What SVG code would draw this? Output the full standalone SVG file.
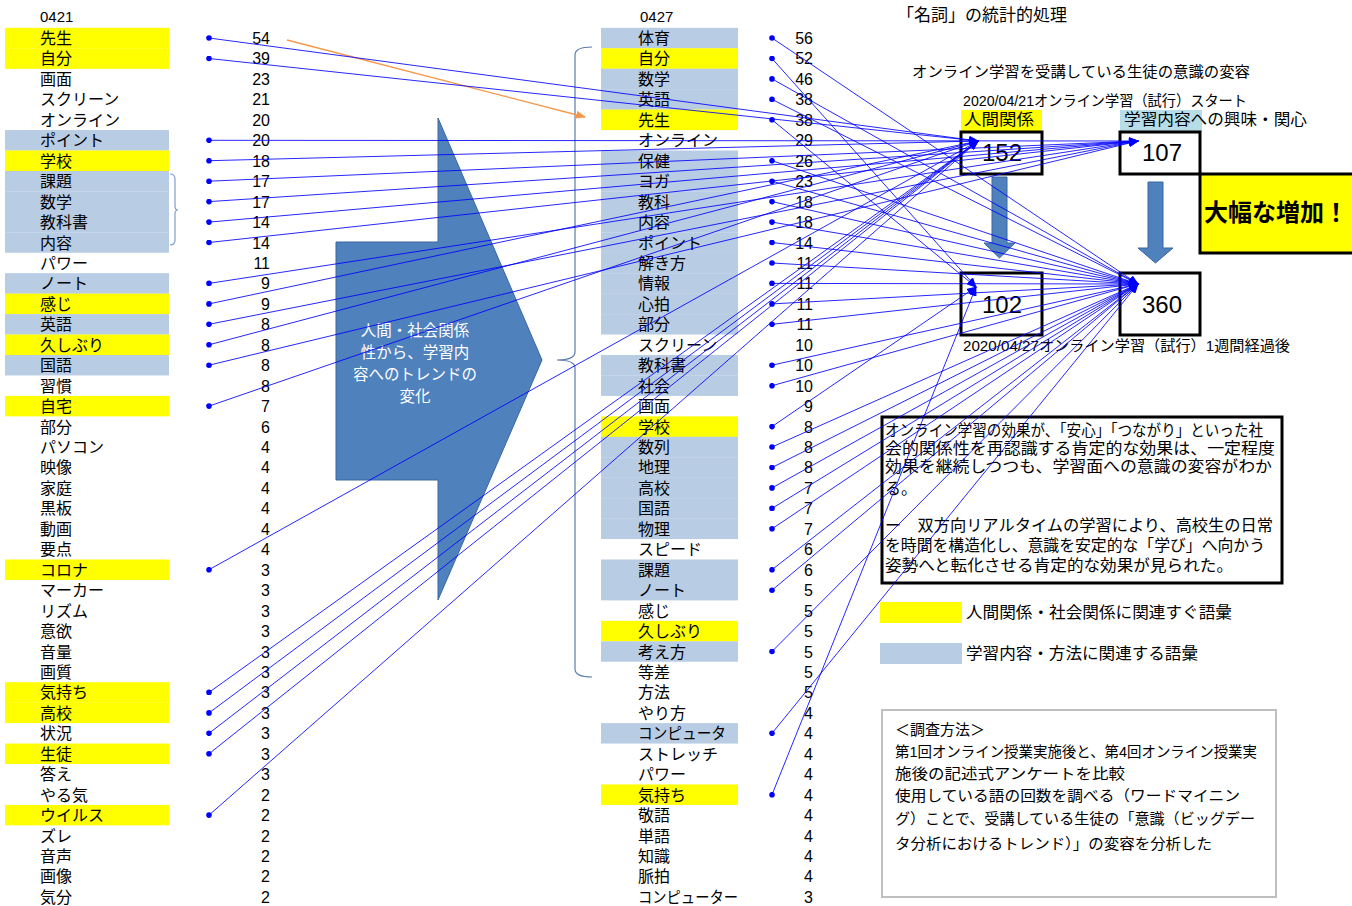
<svg xmlns="http://www.w3.org/2000/svg" width="1352" height="906" viewBox="0 0 1352 906">
<style>
.t{font-family:"Liberation Sans","Noto Sans CJK JP",sans-serif;font-size:16px;fill:#000}
.n{font-family:"Liberation Sans","Noto Sans CJK JP",sans-serif;font-size:16px;fill:#000;text-anchor:end}
.s{font-family:"Liberation Sans","Noto Sans CJK JP",sans-serif;font-size:15px;fill:#000}
.y{fill:#ffff00}
.b{fill:#b8cce4}
.box{fill:#fff;stroke:#000;stroke-width:3}
.num{font-family:"Liberation Sans","Noto Sans CJK JP",sans-serif;font-size:24px;fill:#000;text-anchor:middle}
.c{stroke:#0000ff;stroke-width:1;stroke-opacity:0.85;fill:none;marker-start:url(#dot);marker-end:url(#arr)}
.sb{fill:#4f81bd;stroke:#3a66a0;stroke-width:1}
</style>
<defs>
<marker id="dot" markerWidth="6" markerHeight="6" refX="3" refY="3" markerUnits="userSpaceOnUse"><circle cx="3" cy="3" r="2.8" fill="#0000ff"/></marker>
<marker id="arr" markerWidth="10" markerHeight="8" refX="9" refY="4" orient="auto" markerUnits="userSpaceOnUse"><path d="M0,0 L10,4 L0,8 z" fill="#0000ff"/></marker>
<marker id="oarr" markerWidth="10" markerHeight="8" refX="9" refY="4" orient="auto" markerUnits="userSpaceOnUse"><path d="M0,0 L10,4 L0,8 z" fill="#f79646"/></marker>
</defs>
<rect width="1352" height="906" fill="#fff"/>

<text class="s" x="40" y="22">0421</text>
<text class="s" x="640" y="22">0427</text>
<text class="t" x="897" y="21" style="font-size:17px">「名詞」の統計的処理</text>

<g id="trend-arrow">
<polygon class="sb" points="438,118 542,360 438,600 438,480 336,480 336,242 438,242"/>
<g style="font-family:'Liberation Sans','Noto Sans CJK JP',sans-serif;font-size:15.5px;fill:#fff;text-anchor:middle">
<text x="415" y="336">人間・社会関係</text>
<text x="415" y="358">性から、学習内</text>
<text x="415" y="380">容へのトレンドの</text>
<text x="415" y="402">変化</text>
</g>
</g>

<path d="M170,174 Q175,174 175,179 L175,206 Q175,210 178,210 Q175,210 175,214 L175,240 Q175,245 170,245" fill="none" stroke="#7f9fcf" stroke-width="1.2"/>
<path d="M592,47 Q575,47 575,55 L575,352 Q575,360 557,360 Q575,360 575,368 L575,669 Q575,677 592,677" fill="none" stroke="#5a7bb0" stroke-width="1.2"/>

<g id="left-list">
<g id="L0" transform="translate(0,38)"><rect class="y" x="5" y="-10.2" width="164" height="20.6"/><text class="t" x="40" y="6">先生</text><text class="n" x="270" y="6">54</text></g>
<g id="L1" transform="translate(0,58.45)"><rect class="y" x="5" y="-10.2" width="164" height="20.6"/><text class="t" x="40" y="6">自分</text><text class="n" x="270" y="6">39</text></g>
<g id="L2" transform="translate(0,78.9)"><text class="t" x="40" y="6">画面</text><text class="n" x="270" y="6">23</text></g>
<g id="L3" transform="translate(0,99.35)"><text class="t" x="40" y="6">スクリーン</text><text class="n" x="270" y="6">21</text></g>
<g id="L4" transform="translate(0,119.8)"><text class="t" x="40" y="6">オンライン</text><text class="n" x="270" y="6">20</text></g>
<g id="L5" transform="translate(0,140.25)"><rect class="b" x="5" y="-10.2" width="164" height="20.6"/><text class="t" x="40" y="6">ポイント</text><text class="n" x="270" y="6">20</text></g>
<g id="L6" transform="translate(0,160.7)"><rect class="y" x="5" y="-10.2" width="164" height="20.6"/><text class="t" x="40" y="6">学校</text><text class="n" x="270" y="6">18</text></g>
<g id="L7" transform="translate(0,181.15)"><rect class="b" x="5" y="-10.2" width="164" height="20.6"/><text class="t" x="40" y="6">課題</text><text class="n" x="270" y="6">17</text></g>
<g id="L8" transform="translate(0,201.6)"><rect class="b" x="5" y="-10.2" width="164" height="20.6"/><text class="t" x="40" y="6">数学</text><text class="n" x="270" y="6">17</text></g>
<g id="L9" transform="translate(0,222.05)"><rect class="b" x="5" y="-10.2" width="164" height="20.6"/><text class="t" x="40" y="6">教科書</text><text class="n" x="270" y="6">14</text></g>
<g id="L10" transform="translate(0,242.5)"><rect class="b" x="5" y="-10.2" width="164" height="20.45"/><text class="t" x="40" y="6">内容</text><text class="n" x="270" y="6">14</text></g>
<g id="L11" transform="translate(0,262.95)"><text class="t" x="40" y="6">パワー</text><text class="n" x="270" y="6">11</text></g>
<g id="L12" transform="translate(0,283.4)"><rect class="b" x="5" y="-10.2" width="164" height="20.6"/><text class="t" x="40" y="6">ノート</text><text class="n" x="270" y="6">9</text></g>
<g id="L13" transform="translate(0,303.85)"><rect class="y" x="5" y="-10.2" width="164" height="20.6"/><text class="t" x="40" y="6">感じ</text><text class="n" x="270" y="6">9</text></g>
<g id="L14" transform="translate(0,324.3)"><rect class="b" x="5" y="-10.2" width="164" height="20.6"/><text class="t" x="40" y="6">英語</text><text class="n" x="270" y="6">8</text></g>
<g id="L15" transform="translate(0,344.75)"><rect class="y" x="5" y="-10.2" width="164" height="20.6"/><text class="t" x="40" y="6">久しぶり</text><text class="n" x="270" y="6">8</text></g>
<g id="L16" transform="translate(0,365.2)"><rect class="b" x="5" y="-10.2" width="164" height="20.45"/><text class="t" x="40" y="6">国語</text><text class="n" x="270" y="6">8</text></g>
<g id="L17" transform="translate(0,385.65)"><text class="t" x="40" y="6">習慣</text><text class="n" x="270" y="6">8</text></g>
<g id="L18" transform="translate(0,406.1)"><rect class="y" x="5" y="-10.2" width="164" height="20.45"/><text class="t" x="40" y="6">自宅</text><text class="n" x="270" y="6">7</text></g>
<g id="L19" transform="translate(0,426.55)"><text class="t" x="40" y="6">部分</text><text class="n" x="270" y="6">6</text></g>
<g id="L20" transform="translate(0,447)"><text class="t" x="40" y="6">パソコン</text><text class="n" x="270" y="6">4</text></g>
<g id="L21" transform="translate(0,467.45)"><text class="t" x="40" y="6">映像</text><text class="n" x="270" y="6">4</text></g>
<g id="L22" transform="translate(0,487.9)"><text class="t" x="40" y="6">家庭</text><text class="n" x="270" y="6">4</text></g>
<g id="L23" transform="translate(0,508.35)"><text class="t" x="40" y="6">黒板</text><text class="n" x="270" y="6">4</text></g>
<g id="L24" transform="translate(0,528.8)"><text class="t" x="40" y="6">動画</text><text class="n" x="270" y="6">4</text></g>
<g id="L25" transform="translate(0,549.25)"><text class="t" x="40" y="6">要点</text><text class="n" x="270" y="6">4</text></g>
<g id="L26" transform="translate(0,569.7)"><rect class="y" x="5" y="-10.2" width="164" height="20.45"/><text class="t" x="40" y="6">コロナ</text><text class="n" x="270" y="6">3</text></g>
<g id="L27" transform="translate(0,590.15)"><text class="t" x="40" y="6">マーカー</text><text class="n" x="270" y="6">3</text></g>
<g id="L28" transform="translate(0,610.6)"><text class="t" x="40" y="6">リズム</text><text class="n" x="270" y="6">3</text></g>
<g id="L29" transform="translate(0,631.05)"><text class="t" x="40" y="6">意欲</text><text class="n" x="270" y="6">3</text></g>
<g id="L30" transform="translate(0,651.5)"><text class="t" x="40" y="6">音量</text><text class="n" x="270" y="6">3</text></g>
<g id="L31" transform="translate(0,671.95)"><text class="t" x="40" y="6">画質</text><text class="n" x="270" y="6">3</text></g>
<g id="L32" transform="translate(0,692.4)"><rect class="y" x="5" y="-10.2" width="164" height="20.6"/><text class="t" x="40" y="6">気持ち</text><text class="n" x="270" y="6">3</text></g>
<g id="L33" transform="translate(0,712.85)"><rect class="y" x="5" y="-10.2" width="164" height="20.45"/><text class="t" x="40" y="6">高校</text><text class="n" x="270" y="6">3</text></g>
<g id="L34" transform="translate(0,733.3)"><text class="t" x="40" y="6">状況</text><text class="n" x="270" y="6">3</text></g>
<g id="L35" transform="translate(0,753.75)"><rect class="y" x="5" y="-10.2" width="164" height="20.45"/><text class="t" x="40" y="6">生徒</text><text class="n" x="270" y="6">3</text></g>
<g id="L36" transform="translate(0,774.2)"><text class="t" x="40" y="6">答え</text><text class="n" x="270" y="6">3</text></g>
<g id="L37" transform="translate(0,794.65)"><text class="t" x="40" y="6">やる気</text><text class="n" x="270" y="6">2</text></g>
<g id="L38" transform="translate(0,815.1)"><rect class="y" x="5" y="-10.2" width="164" height="20.45"/><text class="t" x="40" y="6">ウイルス</text><text class="n" x="270" y="6">2</text></g>
<g id="L39" transform="translate(0,835.55)"><text class="t" x="40" y="6">ズレ</text><text class="n" x="270" y="6">2</text></g>
<g id="L40" transform="translate(0,856)"><text class="t" x="40" y="6">音声</text><text class="n" x="270" y="6">2</text></g>
<g id="L41" transform="translate(0,876.45)"><text class="t" x="40" y="6">画像</text><text class="n" x="270" y="6">2</text></g>
<g id="L42" transform="translate(0,896.9)"><text class="t" x="40" y="6">気分</text><text class="n" x="270" y="6">2</text></g>
</g>

<g id="mid-list">
<g id="M0" transform="translate(0,38)"><rect class="b" x="601" y="-10.2" width="137" height="20.6"/><text class="t" x="638" y="6">体育</text><text class="n" x="813" y="6">56</text></g>
<g id="M1" transform="translate(0,58.45)"><rect class="y" x="601" y="-10.2" width="137" height="20.6"/><text class="t" x="638" y="6">自分</text><text class="n" x="813" y="6">52</text></g>
<g id="M2" transform="translate(0,78.9)"><rect class="b" x="601" y="-10.2" width="137" height="20.6"/><text class="t" x="638" y="6">数学</text><text class="n" x="813" y="6">46</text></g>
<g id="M3" transform="translate(0,99.35)"><rect class="b" x="601" y="-10.2" width="137" height="20.6"/><text class="t" x="638" y="6">英語</text><text class="n" x="813" y="6">38</text></g>
<g id="M4" transform="translate(0,119.8)"><rect class="y" x="601" y="-10.2" width="137" height="20.45"/><text class="t" x="638" y="6">先生</text><text class="n" x="813" y="6">38</text></g>
<g id="M5" transform="translate(0,140.25)"><text class="t" x="638" y="6">オンライン</text><text class="n" x="813" y="6">29</text></g>
<g id="M6" transform="translate(0,160.7)"><rect class="b" x="601" y="-10.2" width="137" height="20.6"/><text class="t" x="638" y="6">保健</text><text class="n" x="813" y="6">26</text></g>
<g id="M7" transform="translate(0,181.15)"><rect class="b" x="601" y="-10.2" width="137" height="20.6"/><text class="t" x="638" y="6">ヨガ</text><text class="n" x="813" y="6">23</text></g>
<g id="M8" transform="translate(0,201.6)"><rect class="b" x="601" y="-10.2" width="137" height="20.6"/><text class="t" x="638" y="6">教科</text><text class="n" x="813" y="6">18</text></g>
<g id="M9" transform="translate(0,222.05)"><rect class="b" x="601" y="-10.2" width="137" height="20.6"/><text class="t" x="638" y="6">内容</text><text class="n" x="813" y="6">18</text></g>
<g id="M10" transform="translate(0,242.5)"><rect class="b" x="601" y="-10.2" width="137" height="20.6"/><text class="t" x="638" y="6">ポイント</text><text class="n" x="813" y="6">14</text></g>
<g id="M11" transform="translate(0,262.95)"><rect class="b" x="601" y="-10.2" width="137" height="20.6"/><text class="t" x="638" y="6">解き方</text><text class="n" x="813" y="6">11</text></g>
<g id="M12" transform="translate(0,283.4)"><rect class="b" x="601" y="-10.2" width="137" height="20.6"/><text class="t" x="638" y="6">情報</text><text class="n" x="813" y="6">11</text></g>
<g id="M13" transform="translate(0,303.85)"><rect class="b" x="601" y="-10.2" width="137" height="20.6"/><text class="t" x="638" y="6">心拍</text><text class="n" x="813" y="6">11</text></g>
<g id="M14" transform="translate(0,324.3)"><rect class="b" x="601" y="-10.2" width="137" height="20.45"/><text class="t" x="638" y="6">部分</text><text class="n" x="813" y="6">11</text></g>
<g id="M15" transform="translate(0,344.75)"><text class="t" x="638" y="6">スクリーン</text><text class="n" x="813" y="6">10</text></g>
<g id="M16" transform="translate(0,365.2)"><rect class="b" x="601" y="-10.2" width="137" height="20.6"/><text class="t" x="638" y="6">教科書</text><text class="n" x="813" y="6">10</text></g>
<g id="M17" transform="translate(0,385.65)"><rect class="b" x="601" y="-10.2" width="137" height="20.45"/><text class="t" x="638" y="6">社会</text><text class="n" x="813" y="6">10</text></g>
<g id="M18" transform="translate(0,406.1)"><text class="t" x="638" y="6">画面</text><text class="n" x="813" y="6">9</text></g>
<g id="M19" transform="translate(0,426.55)"><rect class="y" x="601" y="-10.2" width="137" height="20.6"/><text class="t" x="638" y="6">学校</text><text class="n" x="813" y="6">8</text></g>
<g id="M20" transform="translate(0,447)"><rect class="b" x="601" y="-10.2" width="137" height="20.6"/><text class="t" x="638" y="6">数列</text><text class="n" x="813" y="6">8</text></g>
<g id="M21" transform="translate(0,467.45)"><rect class="b" x="601" y="-10.2" width="137" height="20.6"/><text class="t" x="638" y="6">地理</text><text class="n" x="813" y="6">8</text></g>
<g id="M22" transform="translate(0,487.9)"><rect class="b" x="601" y="-10.2" width="137" height="20.6"/><text class="t" x="638" y="6">高校</text><text class="n" x="813" y="6">7</text></g>
<g id="M23" transform="translate(0,508.35)"><rect class="b" x="601" y="-10.2" width="137" height="20.6"/><text class="t" x="638" y="6">国語</text><text class="n" x="813" y="6">7</text></g>
<g id="M24" transform="translate(0,528.8)"><rect class="b" x="601" y="-10.2" width="137" height="20.45"/><text class="t" x="638" y="6">物理</text><text class="n" x="813" y="6">7</text></g>
<g id="M25" transform="translate(0,549.25)"><text class="t" x="638" y="6">スピード</text><text class="n" x="813" y="6">6</text></g>
<g id="M26" transform="translate(0,569.7)"><rect class="b" x="601" y="-10.2" width="137" height="20.6"/><text class="t" x="638" y="6">課題</text><text class="n" x="813" y="6">6</text></g>
<g id="M27" transform="translate(0,590.15)"><rect class="b" x="601" y="-10.2" width="137" height="20.45"/><text class="t" x="638" y="6">ノート</text><text class="n" x="813" y="6">5</text></g>
<g id="M28" transform="translate(0,610.6)"><text class="t" x="638" y="6">感じ</text><text class="n" x="813" y="6">5</text></g>
<g id="M29" transform="translate(0,631.05)"><rect class="y" x="601" y="-10.2" width="137" height="20.6"/><text class="t" x="638" y="6">久しぶり</text><text class="n" x="813" y="6">5</text></g>
<g id="M30" transform="translate(0,651.5)"><rect class="b" x="601" y="-10.2" width="137" height="20.45"/><text class="t" x="638" y="6">考え方</text><text class="n" x="813" y="6">5</text></g>
<g id="M31" transform="translate(0,671.95)"><text class="t" x="638" y="6">等差</text><text class="n" x="813" y="6">5</text></g>
<g id="M32" transform="translate(0,692.4)"><text class="t" x="638" y="6">方法</text><text class="n" x="813" y="6">5</text></g>
<g id="M33" transform="translate(0,712.85)"><text class="t" x="638" y="6">やり方</text><text class="n" x="813" y="6">4</text></g>
<g id="M34" transform="translate(0,733.3)"><rect class="b" x="601" y="-10.2" width="137" height="20.45"/><text class="t" x="638" y="6" textLength="88" lengthAdjust="spacingAndGlyphs">コンピュータ</text><text class="n" x="813" y="6">4</text></g>
<g id="M35" transform="translate(0,753.75)"><text class="t" x="638" y="6">ストレッチ</text><text class="n" x="813" y="6">4</text></g>
<g id="M36" transform="translate(0,774.2)"><text class="t" x="638" y="6">パワー</text><text class="n" x="813" y="6">4</text></g>
<g id="M37" transform="translate(0,794.65)"><rect class="y" x="601" y="-10.2" width="137" height="20.45"/><text class="t" x="638" y="6">気持ち</text><text class="n" x="813" y="6">4</text></g>
<g id="M38" transform="translate(0,815.1)"><text class="t" x="638" y="6">敬語</text><text class="n" x="813" y="6">4</text></g>
<g id="M39" transform="translate(0,835.55)"><text class="t" x="638" y="6">単語</text><text class="n" x="813" y="6">4</text></g>
<g id="M40" transform="translate(0,856)"><text class="t" x="638" y="6">知識</text><text class="n" x="813" y="6">4</text></g>
<g id="M41" transform="translate(0,876.45)"><text class="t" x="638" y="6">脈拍</text><text class="n" x="813" y="6">4</text></g>
<g id="M42" transform="translate(0,896.9)"><text class="t" x="638" y="6" textLength="100" lengthAdjust="spacingAndGlyphs">コンピューター</text><text class="n" x="813" y="6">3</text></g>
</g>

<text class="s" x="912" y="77" textLength="338" lengthAdjust="spacingAndGlyphs">オンライン学習を受講している生徒の意識の変容</text>
<text class="s" x="963" y="106" textLength="284" lengthAdjust="spacingAndGlyphs">2020/04/21オンライン学習（試行）スタート</text>
<g id="label-human"><rect class="y" x="961" y="110" width="81" height="21"/><text class="t" x="964" y="125" textLength="70" lengthAdjust="spacingAndGlyphs">人間関係</text></g>
<g id="label-study"><rect x="1120" y="110" width="82" height="21" fill="#b7dee8"/><text class="t" x="1124" y="125" textLength="183" lengthAdjust="spacingAndGlyphs">学習内容への興味・関心</text></g>
<g id="box152"><rect class="box" x="961" y="132" width="81" height="42"/><text class="num" x="1002" y="161">152</text></g>
<g id="box107"><rect class="box" x="1120" y="132" width="80" height="42"/><text class="num" x="1162" y="161">107</text></g>
<g id="box-increase"><rect x="1200" y="174" width="165" height="79" fill="#ffff00" stroke="#000" stroke-width="3"/><text x="1204" y="221" style="font-family:'Liberation Sans','Noto Sans CJK JP',sans-serif;font-size:24px;font-weight:bold;fill:#000">大幅な増加！</text></g>
<g id="down1"><polygon class="sb" points="992,177 1007,177 1007,243 1015,243 999.5,258 984,243 992,243"/></g>
<g id="down2"><polygon class="sb" points="1148,182 1163,182 1163,248 1173,248 1155.5,263 1138,248 1148,248"/></g>
<g id="box102"><rect class="box" x="961" y="273" width="81" height="62"/><text class="num" x="1002" y="313">102</text></g>
<g id="box360"><rect class="box" x="1120" y="273" width="80" height="62"/><text class="num" x="1162" y="313">360</text></g>
<text class="s" x="963" y="351" textLength="327" lengthAdjust="spacingAndGlyphs">2020/04/27オンライン学習（試行）1週間経過後</text>

<g id="summary">
<rect class="box" x="882" y="417" width="400" height="166"/>
<text class="t" x="885" y="436" textLength="378" lengthAdjust="spacingAndGlyphs">オンライン学習の効果が、「安心」「つながり」といった社</text>
<text class="t" x="885" y="454" textLength="390" lengthAdjust="spacingAndGlyphs">会的関係性を再認識する肯定的な効果は、一定程度</text>
<text class="t" x="885" y="472" textLength="387" lengthAdjust="spacingAndGlyphs">効果を継続しつつも、学習面への意識の変容がわか</text>
<text class="t" x="885" y="494">る。</text>
<text class="t" x="885" y="531" textLength="388" lengthAdjust="spacingAndGlyphs">ー　双方向リアルタイムの学習により、高校生の日常</text>
<text class="t" x="885" y="551" textLength="380" lengthAdjust="spacingAndGlyphs">を時間を構造化し、意識を安定的な「学び」へ向かう</text>
<text class="t" x="885" y="571" textLength="348" lengthAdjust="spacingAndGlyphs">姿勢へと転化させる肯定的な効果が見られた。</text>
</g>

<g id="legend-yellow"><rect class="y" x="880" y="602" width="82" height="21"/><text class="t" x="966" y="618" textLength="266" lengthAdjust="spacingAndGlyphs">人間関係・社会関係に関連すぐ語彙</text></g>
<g id="legend-blue"><rect class="b" x="880" y="643" width="82" height="21"/><text class="t" x="966" y="659" textLength="232" lengthAdjust="spacingAndGlyphs">学習内容・方法に関連する語彙</text></g>

<g id="method">
<rect x="882" y="710" width="394" height="187" fill="#fff" stroke="#bfbfbf" stroke-width="2"/>
<text class="s" x="895" y="735">＜調査方法＞</text>
<text class="s" x="895" y="757" textLength="362" lengthAdjust="spacingAndGlyphs">第1回オンライン授業実施後と、第4回オンライン授業実</text>
<text class="s" x="895" y="779" textLength="230" lengthAdjust="spacingAndGlyphs">施後の記述式アンケートを比較</text>
<text class="s" x="895" y="801" textLength="345" lengthAdjust="spacingAndGlyphs">使用している語の回数を調べる（ワードマイニン</text>
<text class="s" x="895" y="824" textLength="360" lengthAdjust="spacingAndGlyphs">グ）ことで、受講している生徒の「意識（ビッグデー</text>
<text class="s" x="895" y="849" textLength="317" lengthAdjust="spacingAndGlyphs">タ分析におけるトレンド）」の変容を分析した</text>
</g>

<g id="connectors">
<line x1="287" y1="40" x2="585" y2="117" stroke="#f79646" stroke-width="1.3" marker-end="url(#oarr)"/>
<line class="c" x1="209" y1="38" x2="978" y2="141"/>
<line class="c" x1="209" y1="58.5" x2="978" y2="141"/>
<line class="c" x1="209" y1="160.7" x2="978" y2="141"/>
<line class="c" x1="209" y1="303.9" x2="978" y2="141"/>
<line class="c" x1="209" y1="344.8" x2="978" y2="141"/>
<line class="c" x1="209" y1="406.1" x2="978" y2="141"/>
<line class="c" x1="209" y1="569.7" x2="978" y2="141"/>
<line class="c" x1="209" y1="692.4" x2="978" y2="141"/>
<line class="c" x1="209" y1="712.9" x2="978" y2="141"/>
<line class="c" x1="209" y1="733.3" x2="978" y2="141"/>
<line class="c" x1="209" y1="753.8" x2="978" y2="141"/>
<line class="c" x1="209" y1="815.1" x2="978" y2="141"/>
<line class="c" x1="209" y1="140.3" x2="1138" y2="141"/>
<line class="c" x1="209" y1="181.2" x2="1138" y2="141"/>
<line class="c" x1="209" y1="201.6" x2="1138" y2="141"/>
<line class="c" x1="209" y1="222.1" x2="1138" y2="141"/>
<line class="c" x1="209" y1="242.5" x2="1138" y2="141"/>
<line class="c" x1="209" y1="283.4" x2="1138" y2="141"/>
<line class="c" x1="209" y1="324.3" x2="1138" y2="141"/>
<line class="c" x1="209" y1="365.2" x2="1138" y2="141"/>
<line class="c" x1="772" y1="58.5" x2="976" y2="287"/>
<line class="c" x1="772" y1="119.8" x2="976" y2="287"/>
<line class="c" x1="772" y1="426.6" x2="976" y2="287"/>
<line class="c" x1="772" y1="794.7" x2="976" y2="287"/>
<line class="c" x1="772" y1="38" x2="1138" y2="284"/>
<line class="c" x1="772" y1="78.9" x2="1138" y2="284"/>
<line class="c" x1="772" y1="99.4" x2="1138" y2="284"/>
<line class="c" x1="772" y1="160.7" x2="1138" y2="284"/>
<line class="c" x1="772" y1="181.2" x2="1138" y2="284"/>
<line class="c" x1="772" y1="201.6" x2="1138" y2="284"/>
<line class="c" x1="772" y1="222.1" x2="1138" y2="284"/>
<line class="c" x1="772" y1="242.5" x2="1138" y2="284"/>
<line class="c" x1="772" y1="263" x2="1138" y2="284"/>
<line class="c" x1="772" y1="283.4" x2="1138" y2="284"/>
<line class="c" x1="772" y1="303.9" x2="1138" y2="284"/>
<line class="c" x1="772" y1="324.3" x2="1138" y2="284"/>
<line class="c" x1="772" y1="365.2" x2="1138" y2="284"/>
<line class="c" x1="772" y1="385.7" x2="1138" y2="284"/>
<line class="c" x1="772" y1="447" x2="1138" y2="284"/>
<line class="c" x1="772" y1="467.5" x2="1138" y2="284"/>
<line class="c" x1="772" y1="487.9" x2="1138" y2="284"/>
<line class="c" x1="772" y1="508.4" x2="1138" y2="284"/>
<line class="c" x1="772" y1="528.8" x2="1138" y2="284"/>
<line class="c" x1="772" y1="569.7" x2="1138" y2="284"/>
<line class="c" x1="772" y1="590.2" x2="1138" y2="284"/>
<line class="c" x1="772" y1="651.5" x2="1138" y2="284"/>
<line class="c" x1="772" y1="733.3" x2="1138" y2="284"/>
</g>
</svg>
